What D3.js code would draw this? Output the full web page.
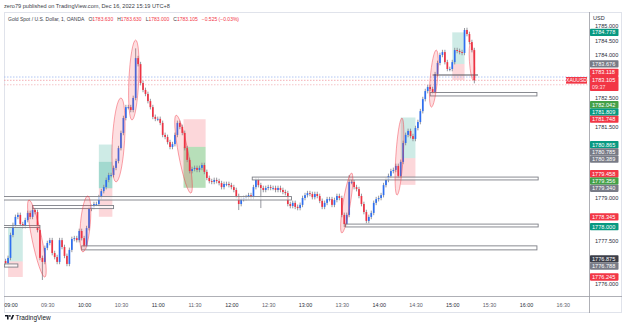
<!DOCTYPE html>
<html>
<head>
<meta charset="utf-8">
<script src="https://cdn.jsdelivr.net/npm/d3@7"></script>
<style>
  body { margin: 0; background: #fff; }
  svg { display: block; font-family: "Liberation Sans", Arial, sans-serif; }
</style>
</head>
<body>
<svg id="chart" width="625" height="326"></svg>
<script>
// 2-minute closes from 08:56 to 15:18
const firstBar = -4;          // minutes from 09:00
const firstOpen = 1776.80;
const closes = [
  1776.73, 1776.91, 1777.71, 1778.06, 1778.34, 1778.41, 1778.09, 1778.02, 1778.23, 1778.48,
  1778.34, 1778.58, 1778.51, 1777.88, 1776.91, 1776.77, 1777.26, 1777.43, 1777.53, 1777.08,
  1776.94, 1776.77, 1777.53, 1777.29, 1776.98, 1776.70, 1777.19, 1777.57, 1777.60, 1777.53,
  1777.85, 1777.60, 1777.29, 1777.95, 1778.62, 1778.69, 1778.79, 1778.79, 1779.03, 1779.24,
  1779.38, 1779.63, 1779.80, 1779.80, 1780.05, 1780.29, 1780.74, 1781.27, 1781.79, 1782.17,
  1782.17, 1782.07, 1782.49, 1783.88, 1783.67, 1783.01, 1782.77, 1782.63, 1782.38, 1782.17,
  1781.83, 1781.76, 1781.76, 1781.62, 1781.20, 1781.13, 1780.95, 1780.78, 1780.88, 1781.20,
  1781.62, 1781.48, 1781.27, 1780.74, 1780.33, 1779.94, 1780.01, 1780.05, 1779.98, 1780.05,
  1780.15, 1779.91, 1779.70, 1779.59, 1779.56, 1779.63, 1779.59, 1779.52, 1779.38, 1779.49,
  1779.49, 1779.45, 1779.38, 1779.28, 1779.07, 1778.79, 1778.96, 1779.00, 1779.03, 1779.10,
  1779.03, 1779.38, 1779.63, 1779.45, 1779.35, 1779.28, 1779.35, 1779.38, 1779.35, 1779.35,
  1779.28, 1779.35, 1779.28, 1779.21, 1779.17, 1778.79, 1778.72, 1778.83, 1778.69, 1778.65,
  1778.76, 1779.00, 1779.10, 1779.17, 1779.14, 1779.03, 1779.14, 1779.07, 1778.90, 1778.69,
  1778.83, 1778.96, 1778.96, 1778.76, 1778.93, 1779.07, 1779.00, 1778.41, 1778.09, 1778.41,
  1779.56, 1779.56, 1779.38, 1779.31, 1779.07, 1778.79, 1778.51, 1778.20, 1778.34, 1778.48,
  1778.83, 1778.96, 1779.00, 1779.10, 1779.45, 1779.63, 1779.77, 1779.94, 1779.98, 1780.12,
  1779.77, 1780.26, 1780.92, 1781.20, 1781.34, 1781.16, 1781.06, 1781.44, 1781.65, 1782.03,
  1782.45, 1782.73, 1782.87, 1782.80, 1782.70, 1783.32, 1783.71, 1783.99, 1784.09, 1783.74,
  1783.50, 1783.50, 1783.74, 1784.16, 1784.13, 1784.09, 1784.06, 1784.86, 1784.72, 1784.44,
  1784.16, 1783.105
];
// notable wicks [bar index, price]
const wickHighs = [[53, 1784.22], [140, 1779.80], [187, 1784.93]];
const wickLows = [[15, 1776.14], [95, 1778.58], [104, 1778.65], [138, 1777.99], [191, 1783.00]];

const lastPrice = 1783.105;
const countdown = "09:37";
const priceTicks = d3.range(1776, 1785.001, 0.5);

// drawings: zones [from min, to min, top, bottom]
const zones = [
  [-6, 229, 1779.05, 1778.93],
  [197, 430, 1779.73, 1779.63],
  [18, 84, 1778.74, 1778.63],
  [-6, 24, 1778.04, 1777.97],
  [-5, 6, 1776.70, 1776.59],
  [58, 429, 1777.33, 1777.19],
  [273, 430, 1778.09, 1777.99],
  [342, 429, 1782.68, 1782.56]
];
const rayLine = [344, 381, 1783.29];
// ellipses [min1, price1, min2, price2, half-width in minutes]
const ellipses = [
  [15.1, 1778.93, 28.1, 1776.24, 4],
  [63.2, 1779.07, 59.1, 1777.12, 4],
  [90.9, 1782.49, 86.8, 1779.56, 5],
  [102.3, 1784.51, 99.0, 1781.72, 4],
  [135.7, 1781.89, 147.9, 1779.17, 4.5],
  [278.3, 1779.87, 270.2, 1777.78, 3.7],
  [319.1, 1781.79, 315.8, 1779.10, 3.7],
  [347.6, 1784.16, 343.5, 1782.17, 3.3],
  [375.3, 1784.41, 377.7, 1783.12, 2.8]
];
// position tools [from, to, target, entry, stop, side]
const positions = [
  [-2, 10, 1778.000, 1776.788, 1776.245, "long"],
  [72, 83.5, 1780.865, 1779.340, 1778.345, "long"],
  [141, 159, 1779.356, 1780.785, 1781.748, "short"],
  [318, 330.5, 1781.809, 1780.389, 1779.458, "long"],
  [360.5, 370, 1784.778, 1783.676, 1783.118, "long"]
];
const extraFill = [72, 83.5, 1780.26, 1779.340];

// price scale labels, in placement priority
const badgePrices = [1780.865, 1779.340, 1778.345, 1781.748, 1780.785, 1779.356, 1781.809, 1780.389,
  1779.458, 1782.042, 1776.875, 1776.788, 1778.000, 1776.245, 1784.778, 1783.676, 1783.118];
const badgeKinds = ["target", "entry", "stop", "stop", "entry", "green", "target", "entry",
  "stop", "green", "mark", "entry", "target", "stop", "target", "entry", "stop"];
const kindColor = { target: "#089981", entry: "#787b86", stop: "#f23645", green: "#43a047", mark: "#3b3e48" };

const svg = d3.select("#chart");
const t0 = new Date(2022, 11, 16, 9, 0);
const T = m => d3.timeMinute.offset(t0, m);

const plot = { left: 4, right: 589, top: 12, bottom: 296 };
const x = d3.scaleTime().domain([T(0), T(450)]).range([10.5, 562.7]);
const y = d3.scaleLinear().domain([1776, 1785]).range([284, 26]);

// header
svg.append("text").attr("x", 4).attr("y", 8).attr("font-size", 5.6).attr("font-weight", 500)
  .attr("fill", "#3b3e48").text("zero79 published on TradingView.com, Dec 16, 2022 15:19 UTC+8");

// frame
svg.append("rect").attr("x", 4.5).attr("y", plot.top + 0.5).attr("width", 617).attr("height", 300)
  .attr("fill", "none").attr("stroke", "#e0e3eb");

svg.append("clipPath").attr("id", "clip").append("rect")
  .attr("x", plot.left).attr("y", plot.top).attr("width", plot.right - plot.left).attr("height", plot.bottom - plot.top);
const g = svg.append("g").attr("clip-path", "url(#clip)");

// position tools
positions.forEach(([a, b, target, entry, stop, side]) => {
  const x0 = x(T(a)), w = x(T(b)) - x(T(a));
  g.append("rect").attr("x", x0).attr("width", w)
    .attr("y", y(Math.max(target, entry))).attr("height", Math.abs(y(target) - y(entry)))
    .attr("fill", side === "long" ? "rgba(8,153,129,0.2)" : "rgba(76,175,80,0.4)");
  g.append("rect").attr("x", x0).attr("width", w)
    .attr("y", y(Math.max(stop, entry))).attr("height", Math.abs(y(stop) - y(entry)))
    .attr("fill", "rgba(242,54,69,0.2)");
});
g.append("rect").attr("x", x(T(extraFill[0]))).attr("width", x(T(extraFill[1])) - x(T(extraFill[0])))
  .attr("y", y(extraFill[2])).attr("height", y(extraFill[3]) - y(extraFill[2]))
  .attr("fill", "rgba(8,153,129,0.22)");

// price lines
[[1783.22, "#9fb8f0"], [lastPrice, "#f29aa2"], [1782.95, "#f2b6bb"]].forEach(([p, c]) => {
  g.append("line").attr("x1", plot.left).attr("x2", plot.right)
    .attr("y1", y(p)).attr("y2", y(p)).attr("stroke", c).attr("stroke-width", 0.8)
    .attr("stroke-dasharray", "1.5,1.5");
});

// candles
const bars = closes.map((c, i) => {
  const o = i ? closes[i - 1] : firstOpen;
  return { t: T(firstBar + i * 2), o, c, h: Math.max(o, c) + 0.08, l: Math.min(o, c) - 0.08 };
});
wickHighs.forEach(([i, v]) => bars[i].h = v);
wickLows.forEach(([i, v]) => bars[i].l = v);

const candle = g.append("g").selectAll("g").data(bars).enter().append("g");
candle.append("line")
  .attr("x1", d => x(d.t)).attr("x2", d => x(d.t))
  .attr("y1", d => y(d.h)).attr("y2", d => y(d.l))
  .attr("stroke", "#8a8c94").attr("stroke-width", 0.9);
candle.append("rect")
  .attr("x", d => x(d.t) - 0.85).attr("width", 1.7)
  .attr("y", d => y(Math.max(d.o, d.c)))
  .attr("height", d => Math.max(0.9, Math.abs(y(d.o) - y(d.c))))
  .attr("fill", d => d.c >= d.o ? "#2f6ff0" : "#ee3344");

// zones
zones.forEach(([a, b, top, bot]) => {
  g.append("rect").attr("x", x(T(a))).attr("width", x(T(b)) - x(T(a)))
    .attr("y", y(top)).attr("height", y(bot) - y(top))
    .attr("fill", "rgba(255,255,255,0.7)").attr("stroke", "#7d7f86").attr("stroke-width", 0.9);
});
g.append("line").attr("x1", x(T(rayLine[0]))).attr("x2", x(T(rayLine[1])))
  .attr("y1", y(rayLine[2])).attr("y2", y(rayLine[2]))
  .attr("stroke", "#55575e").attr("stroke-width", 1.2);

// ellipses
ellipses.forEach(([m1, p1, m2, p2, hw]) => {
  const ax = x(T(m1)), ay = y(p1), bx = x(T(m2)), by = y(p2);
  const cx = (ax + bx) / 2, cy = (ay + by) / 2;
  const rx = Math.hypot(bx - ax, by - ay) / 2;
  const ry = x(T(hw)) - x(T(0));
  const ang = Math.atan2(by - ay, bx - ax) * 180 / Math.PI;
  g.append("ellipse").attr("cx", cx).attr("cy", cy).attr("rx", rx).attr("ry", ry)
    .attr("transform", `rotate(${ang},${cx},${cy})`)
    .attr("fill", "rgba(242,54,69,0.16)").attr("stroke", "rgba(242,54,69,0.55)").attr("stroke-width", 0.8);
});

// symbol label on the price line
svg.append("rect").attr("x", 566).attr("y", y(lastPrice) - 3.3).attr("width", 21).attr("height", 6.6)
  .attr("fill", "#f23645");
svg.append("text").attr("x", 576.5).attr("y", y(lastPrice) + 1.9).attr("text-anchor", "middle")
  .attr("font-size", 5).attr("fill", "#fff").text("XAUUSD");

// legend
const legend = svg.append("text").attr("x", 8).attr("y", 21).attr("font-size", 5).attr("fill", "#3b3e48");
legend.append("tspan").text("Gold Spot / U.S. Dollar, 1, OANDA");
[["O", "1783.630"], ["H", "1783.630"], ["L", "1783.000"], ["C", "1783.105"]].forEach(([k, v]) => {
  legend.append("tspan").attr("dx", 4).text(k);
  legend.append("tspan").attr("fill", "#f23645").text(v);
});
legend.append("tspan").attr("dx", 4).attr("fill", "#f23645").text("\u22120.525 (\u22120.03%)");

// axes lines
svg.append("line").attr("x1", plot.right + 0.5).attr("x2", plot.right + 0.5).attr("y1", plot.top).attr("y2", 313)
  .attr("stroke", "#9a9ca3").attr("stroke-width", 0.8);
svg.append("line").attr("x1", 4).attr("x2", 622).attr("y1", plot.bottom + 0.5).attr("y2", plot.bottom + 0.5)
  .attr("stroke", "#9a9ca3").attr("stroke-width", 0.8);

// time axis
const xAxis = svg.append("g").attr("transform", `translate(0,${plot.bottom})`)
  .call(d3.axisBottom(x).ticks(d3.timeMinute.every(30)).tickFormat(d3.timeFormat("%H:%M")).tickSize(0));
xAxis.select(".domain").remove();
xAxis.selectAll("text").attr("dy", 7.5).attr("font-size", 5.4)
  .attr("font-family", "Liberation Sans, Arial, sans-serif")
  .attr("fill", d => d.getMinutes() === 0 ? "#2a2e39" : "#5d606b");

// badge placement: fixed block for last price, then priority placement
const bh = 7.3;
const lastY = y(lastPrice);
const occupied = [[lastY - 4.2, lastY + 10.8]];
const free = (c) => occupied.every(([a, b]) => c + bh / 2 <= a + 0.01 || c - bh / 2 >= b - 0.01);
const placed = badgePrices.map((p, i) => {
  const ideal = y(p);
  let cy = ideal;
  if (!free(ideal)) {
    const cands = [];
    occupied.forEach(([a, b]) => { cands.push(a - bh / 2, b + bh / 2); });
    const ok = cands.filter(free);
    const up = ok.filter(c => c < ideal).sort((a, b) => b - a)[0];
    const down = ok.filter(c => c > ideal).sort((a, b) => a - b)[0];
    if (up === undefined) cy = down;
    else if (down === undefined) cy = up;
    else cy = (ideal - up) <= 1.2 * (down - ideal) ? up : down;
  }
  occupied.push([cy - bh / 2, cy + bh / 2]);
  return { p, cy, color: kindColor[badgeKinds[i]] };
});

// price axis (ticks hidden where a badge sits on them)
svg.append("text").attr("x", 593).attr("y", 20).attr("font-size", 5.5).attr("fill", "#2a2e39").text("USD");
const shownTicks = priceTicks.filter(p => {
  const ty = y(p);
  return occupied.every(([a, b]) => ty + 2.3 <= a || ty - 2.3 >= b);
});
const yAxis = svg.append("g").attr("transform", `translate(${plot.right + 3},0)`)
  .call(d3.axisRight(y).tickValues(shownTicks).tickFormat(d3.format(".3f")).tickSize(0));
yAxis.select(".domain").remove();
yAxis.selectAll("text").attr("font-size", 5.6).attr("fill", "#2a2e39")
  .attr("font-family", "Liberation Sans, Arial, sans-serif");

const badge = svg.append("g").selectAll("g").data(placed).enter().append("g");
badge.append("rect").attr("x", plot.right + 1).attr("width", 28.5)
  .attr("y", d => d.cy - bh / 2).attr("height", bh).attr("rx", 0.8).attr("fill", d => d.color);
badge.append("text").attr("x", plot.right + 3).attr("y", d => d.cy + 2)
  .attr("font-size", 5.6).attr("fill", "#fff").text(d => d3.format(".3f")(d.p));

// last price badge with countdown
svg.append("rect").attr("x", plot.right + 1).attr("width", 28.5).attr("y", lastY - 4.2).attr("height", 15)
  .attr("rx", 0.8).attr("fill", "#f23645");
svg.append("text").attr("x", plot.right + 3).attr("y", lastY + 2).attr("font-size", 5.6).attr("fill", "#fff")
  .text(d3.format(".3f")(lastPrice));
svg.append("text").attr("x", plot.right + 3).attr("y", lastY + 8.6).attr("font-size", 5.4)
  .attr("fill", "rgba(255,255,255,0.85)").text(countdown);

// TradingView mark
const logo = svg.append("g").attr("transform", "translate(5,315)");
logo.append("path").attr("d", "M0,0 h3.6 v4.6 h-1.6 v-3 h-2 z").attr("fill", "#131722");
logo.append("circle").attr("cx", 4.9).attr("cy", 0.9).attr("r", 0.9).attr("fill", "#131722");
logo.append("path").attr("d", "M5.4,4.6 L7.4,0 H9.2 L7.2,4.6 Z").attr("fill", "#131722");
svg.append("text").attr("x", 15.5).attr("y", 320).attr("font-size", 6.4).attr("fill", "#131722")
  .text("TradingView");
</script>
</body>
</html>
